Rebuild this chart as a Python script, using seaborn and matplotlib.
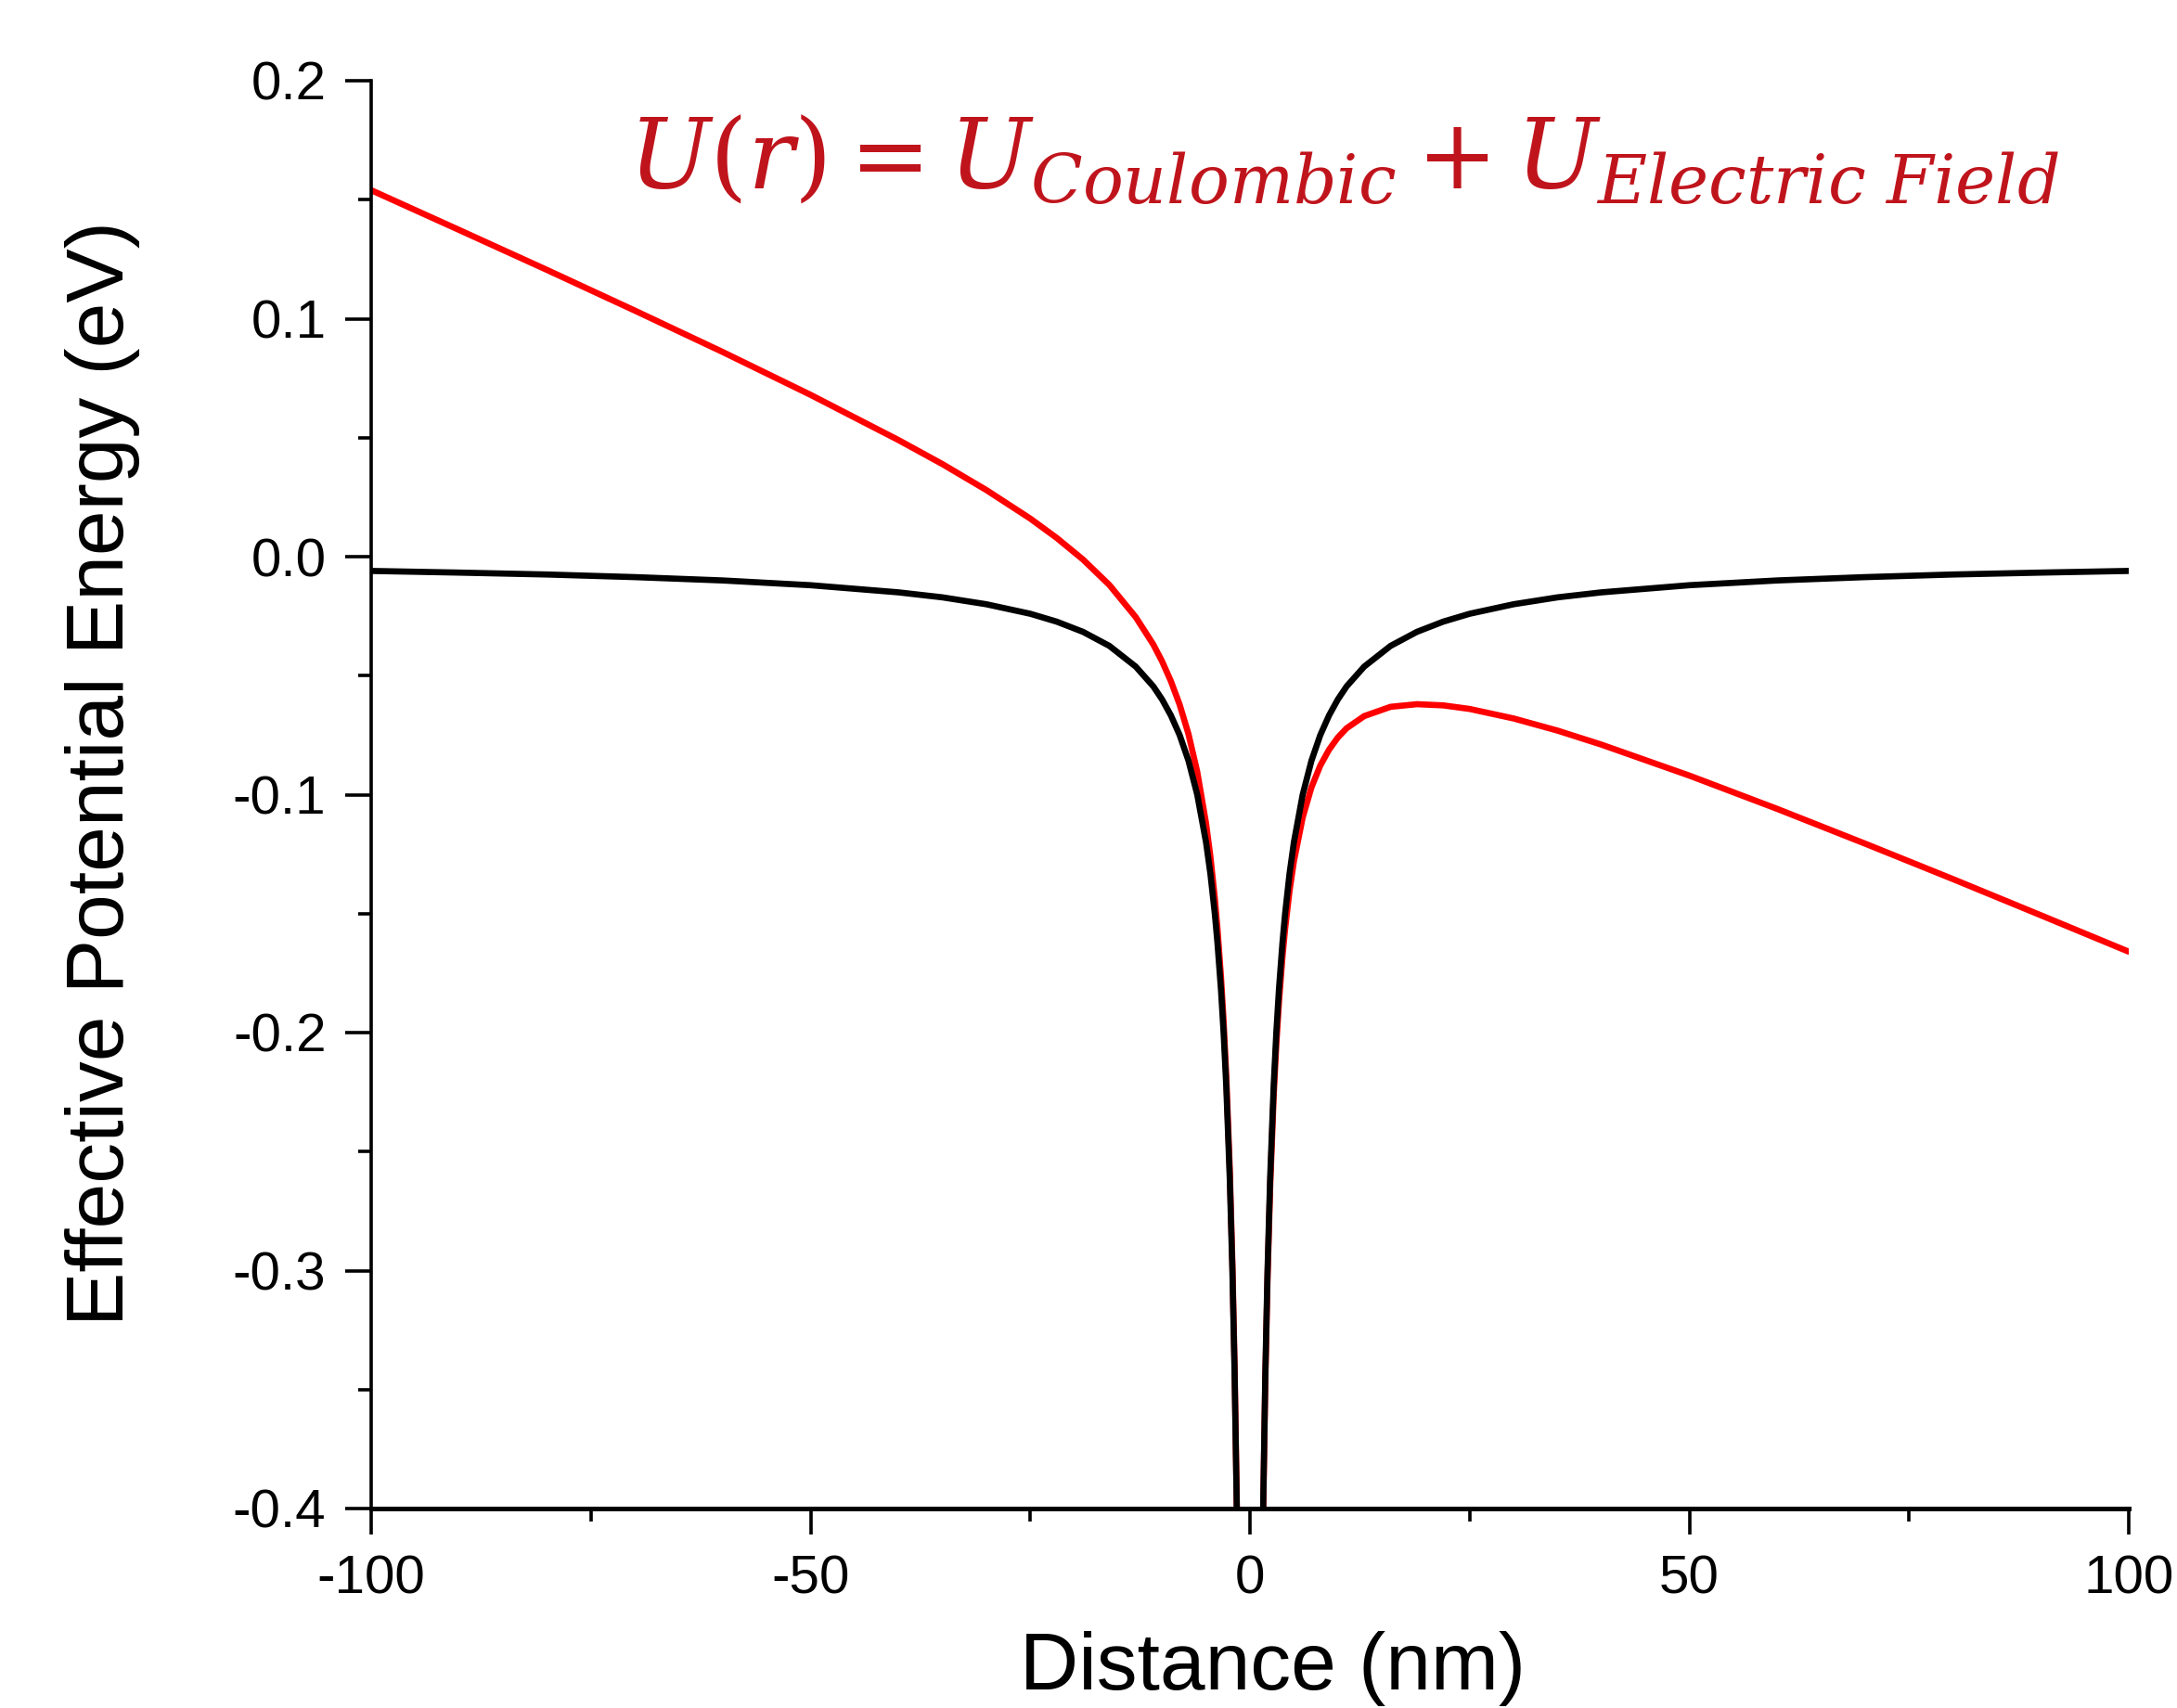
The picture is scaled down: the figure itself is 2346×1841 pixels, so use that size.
import numpy as np
import pandas as pd
import matplotlib
matplotlib.use("Agg")
import matplotlib.pyplot as plt
import seaborn as sns
from matplotlib.ticker import MultipleLocator, FormatStrFormatter

# distance from the centre (nm)
dist = [1.4, 1.5, 1.75, 2.0, 2.3, 2.7, 3.0, 3.3, 3.7, 4.0, 4.5, 5.0, 6.0, 7.0, 8.0,
        9.0, 10, 11, 13, 16, 19, 22, 25, 30, 35, 40, 50, 60, 70, 80, 90, 100]

# black curve (coulombic only), same on both sides
coulomb = [-0.4286, -0.4000, -0.3429, -0.3000, -0.2609, -0.2222, -0.2000, -0.1818,
           -0.1622, -0.1500, -0.1333, -0.1200, -0.1000, -0.0857, -0.0750, -0.0667,
           -0.0600, -0.0545, -0.0462, -0.0375, -0.0316, -0.0273, -0.0240, -0.0200,
           -0.0171, -0.0150, -0.0120, -0.0100, -0.0086, -0.0075, -0.0067, -0.0060]

# red curve (coulombic + electric field), left branch (negative distance)
total_left = [-0.4264, -0.3976, -0.3401, -0.2968, -0.2572, -0.2179, -0.1952, -0.1765,
              -0.1563, -0.1436, -0.1261, -0.1120, -0.0904, -0.0745, -0.0622, -0.0523,
              -0.0440, -0.0369, -0.0254, -0.0119, -0.0012, 0.0079, 0.0160, 0.0280,
              0.0389, 0.0490, 0.0680, 0.0860, 0.1034, 0.1205, 0.1373, 0.1540]

# red curve, right branch (positive distance)
total_right = [-0.4308, -0.4024, -0.3457, -0.3032, -0.2646, -0.2265, -0.2048, -0.1871,
               -0.1681, -0.1564, -0.1405, -0.1280, -0.1096, -0.0969, -0.0878, -0.0811,
               -0.0760, -0.0721, -0.0670, -0.0631, -0.0620, -0.0625, -0.0640, -0.0680,
               -0.0731, -0.0790, -0.0920, -0.1060, -0.1206, -0.1355, -0.1507, -0.1660]

x_ticks = [-100, -50, 0, 50, 100]
y_ticks = [-0.4, -0.3, -0.2, -0.1, 0.0, 0.1, 0.2]

sns.set_theme(style="ticks")
plt.rcParams['font.family'] = ['Liberation Sans', 'DejaVu Sans']
plt.rcParams['axes.unicode_minus'] = False
plt.rcParams['mathtext.fontset'] = 'dejavuserif'

W, H = 2346, 1841
fig = plt.figure(figsize=(W / 100, H / 100), dpi=100)
ax = fig.add_axes([400 / W, 1 - 1626 / H, 1894 / W, 1539 / H])

left = pd.DataFrame({'x': [-d for d in dist], 'c': coulomb, 't': total_left})
right = pd.DataFrame({'x': dist, 'c': coulomb, 't': total_right})

# red first, black drawn over it
for df in (left, right):
    sns.lineplot(data=df, x='x', y='t', color='#FF0000', linewidth=4.8, sort=False, ax=ax)
for df in (left, right):
    sns.lineplot(data=df, x='x', y='c', color='black', linewidth=4.8, sort=False, ax=ax)

ax.set_xlim(-100, 100)
ax.set_ylim(-0.4, 0.2)
ax.set_xticks(x_ticks)
ax.set_yticks(y_ticks)
ax.xaxis.set_minor_locator(MultipleLocator(25))
ax.yaxis.set_minor_locator(MultipleLocator(0.05))
ax.yaxis.set_major_formatter(FormatStrFormatter('%.1f'))

for s in ['top', 'right']:
    ax.spines[s].set_visible(False)
ax.spines['left'].set_linewidth(2.6)
ax.spines['bottom'].set_linewidth(3.6)
for s in ['left', 'bottom']:
    ax.spines[s].set_color('black')

ax.tick_params(which='major', direction='out', length=20, width=2.6, color='black',
               labelsize=42, labelcolor='black')
ax.tick_params(which='minor', direction='out', length=10, width=2.6, color='black')
ax.tick_params(axis='y', which='major', pad=15)
ax.tick_params(axis='x', which='major', pad=16)

ax.set_xlabel('Distance (nm)', fontsize=63, color='black')
ax.set_ylabel('Effective Potential Energy (eV)', fontsize=63, color='black')
ax.xaxis.set_label_coords(0.513, -0.086)
ax.yaxis.set_label_coords(-0.1315, 0.5146)

ax.text(0.146, 0.924, r'$U(r) = U_{Coulombic} + U_{Electric\ Field}$',
        transform=ax.transAxes, fontsize=75, color='#C0141C',
        ha='left', va='baseline')

fig.savefig('out.png', dpi=100)
